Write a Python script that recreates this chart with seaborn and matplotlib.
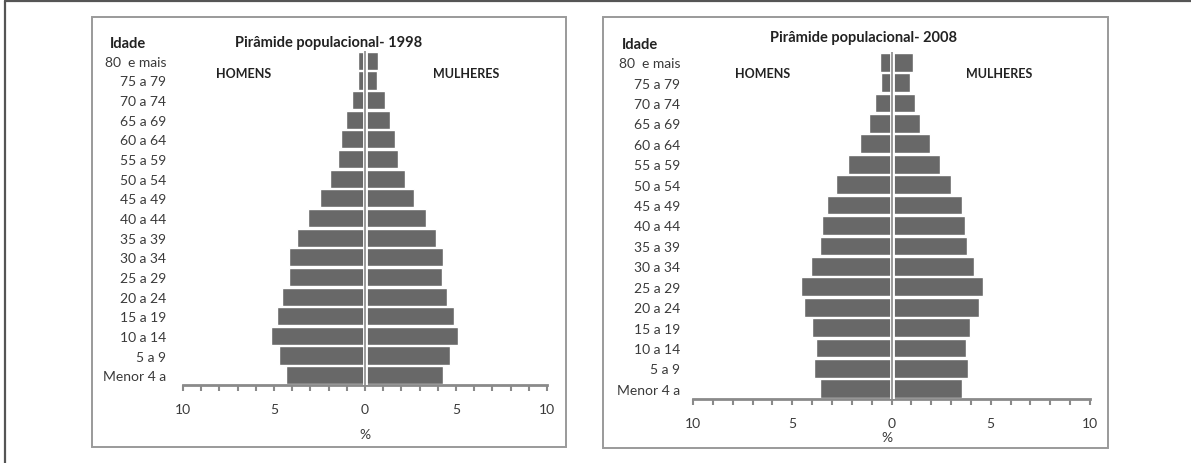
import numpy as np
import pandas as pd
import matplotlib
matplotlib.use("Agg")
import matplotlib.pyplot as plt
import seaborn as sns
from matplotlib.patches import Rectangle
from matplotlib.lines import Line2D

# faixas etarias (de cima para baixo) e percentuais
idades = ["80  e mais", "75 a 79", "70 a 74", "65 a 69", "60 a 64", "55 a 59",
          "50 a 54", "45 a 49", "40 a 44", "35 a 39", "30 a 34", "25 a 29",
          "20 a 24", "15 a 19", "10 a 14", "5 a 9", "Menor 4 a"]
homens_1998 = [0.4, 0.4, 0.7, 1.05, 1.3, 1.5, 1.9, 2.5, 3.15, 3.75, 4.15,
               4.15, 4.55, 4.85, 5.15, 4.7, 4.35]
mulheres_1998 = [0.7, 0.65, 1.1, 1.4, 1.65, 1.8, 2.2, 2.7, 3.35, 3.9, 4.3,
                 4.25, 4.5, 4.9, 5.1, 4.65, 4.3]
homens_2008 = [0.6, 0.55, 0.85, 1.15, 1.6, 2.2, 2.8, 3.25, 3.5, 3.6, 4.05,
               4.55, 4.4, 4.0, 3.8, 3.9, 3.6]
mulheres_2008 = [1.1, 0.95, 1.2, 1.45, 1.95, 2.45, 3.0, 3.55, 3.7, 3.8, 4.15,
                 4.6, 4.4, 3.95, 3.75, 3.85, 3.55]
tick_vals = [-10, -5, 0, 5, 10]
tick_labels = ["10", "5", "0", "5", "10"]

sns.set_style("white")
plt.rcParams['font.family'] = ['Lato', 'DejaVu Sans']

W, H = 1191, 464
fig = plt.figure(figsize=(W / 100, H / 100), dpi=100)


def fx(x):
    return x / W


def fy(y):
    return 1 - y / H


def fig_box(x0, y0, x1, y1, color, lw):
    fig.add_artist(Rectangle((fx(x0), fy(y1)), fx(x1) - fx(x0), fy(y0) - fy(y1),
                             transform=fig.transFigure, fill=False,
                             edgecolor=color, linewidth=lw))


# moldura externa (so esquerda e topo visiveis)
fig.add_artist(Line2D([fx(5), fx(5)], [fy(2), 0], transform=fig.transFigure,
                      color='#555555', lw=1.6))
fig.add_artist(Line2D([fx(5), 1], [fy(2), fy(2)], transform=fig.transFigure,
                      color='#555555', lw=1.6))

fig_box(92, 18, 566, 448, '#9a9a9a', 1.4)
fig_box(603, 18, 1108, 449, '#9a9a9a', 1.4)

bar_col = '#686868'


def piramide(rect, homens, mulheres, ypad):
    ax = fig.add_axes(rect)
    df = pd.DataFrame({'idade': idades, 'homens': [-v for v in homens],
                       'mulheres': mulheres})
    sns.barplot(data=df, x='homens', y='idade', order=idades, color=bar_col,
                width=0.92, edgecolor='white', linewidth=1.0, ax=ax,
                saturation=1)
    sns.barplot(data=df, x='mulheres', y='idade', order=idades, color=bar_col,
                width=0.92, edgecolor='white', linewidth=1.0, ax=ax,
                saturation=1)
    ax.axvline(0, color='white', lw=3.5, zorder=3)
    ax.axvline(0, color='#8a8a8a', lw=1.2, zorder=4)
    ax.set_xlim(-10, 10)
    ax.set_ylim(len(idades) - 0.5, -0.5)
    ax.set_xlabel('')
    ax.set_ylabel('')
    for s in ['top', 'left', 'right']:
        ax.spines[s].set_visible(False)
    ax.spines['bottom'].set_color('#8a8a8a')
    ax.spines['bottom'].set_linewidth(2)
    ax.set_xticks(tick_vals)
    ax.set_xticklabels(tick_labels)
    ax.set_xticks(np.arange(-10, 11, 1), minor=True)
    ax.tick_params(axis='x', which='both', direction='out', length=4,
                   width=1.5, color='#8a8a8a', pad=9, labelsize=10,
                   labelcolor='#3a3a3a', bottom=True)
    ax.tick_params(axis='y', length=0, pad=ypad, labelsize=10,
                   labelcolor='#3a3a3a')
    ax.patch.set_alpha(0)
    return ax


piramide([fx(183), fy(386), fx(547) - fx(183), fy(52) - fy(386)],
         homens_1998, mulheres_1998, 12)
piramide([fx(693), fy(400), fx(1090) - fx(693), fy(53) - fy(400)],
         homens_2008, mulheres_2008, 9)

bold = dict(fontweight='bold', color='#222222', fontsize=10.5)
fig.text(fx(128), fy(44), 'Idade', ha='center', va='center', **bold)
fig.text(fx(329), fy(43), 'Pirâmide populacional- 1998', ha='center', va='center', **bold)
fig.text(fx(244), fy(74), 'HOMENS', ha='center', va='center', fontweight='bold',
         color='#222222', fontsize=9)
fig.text(fx(466), fy(74), 'MULHERES', ha='center', va='center', fontweight='bold',
         color='#222222', fontsize=9)
fig.text(fx(365), fy(435), '%', ha='center', va='center', color='#3a3a3a', fontsize=10)

fig.text(fx(640), fy(45), 'Idade', ha='center', va='center', **bold)
fig.text(fx(863), fy(38), 'Pirâmide populacional- 2008', ha='center', va='center', **bold)
fig.text(fx(763), fy(74), 'HOMENS', ha='center', va='center', fontweight='bold',
         color='#222222', fontsize=9)
fig.text(fx(999), fy(74), 'MULHERES', ha='center', va='center', fontweight='bold',
         color='#222222', fontsize=9)
fig.text(fx(887), fy(438), '%', ha='center', va='center', color='#3a3a3a', fontsize=10)

fig.savefig('out.png', dpi=100)
